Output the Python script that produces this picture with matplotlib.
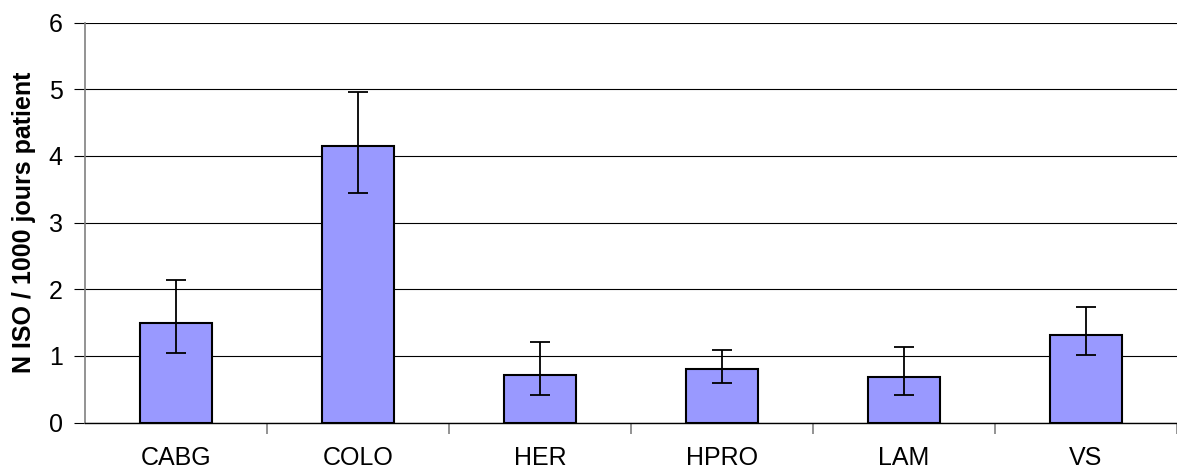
import numpy as np
import matplotlib
matplotlib.use("Agg")
import matplotlib.pyplot as plt

plt.rcParams['font.family'] = ['Liberation Sans', 'DejaVu Sans']

# data #
categories = ['CABG', 'COLO', 'HER', 'HPRO', 'LAM', 'VS']
values = [1.50, 4.15, 0.72, 0.81, 0.69, 1.32]
err_high = [2.14, 4.96, 1.21, 1.09, 1.14, 1.74]
err_low = [1.05, 3.45, 0.42, 0.60, 0.42, 1.02]

vals = np.array(values)
yerr = np.array([vals - np.array(err_low), np.array(err_high) - vals])
x = np.arange(len(categories))

fig = plt.figure(figsize=(11.77, 4.68), dpi=100)
ax = fig.add_axes([85/1177, 45.5/468, 1 - 85/1177, 400/468])

ax.bar(x, vals, width=0.40, color='#9999FF', edgecolor='black',
       linewidth=1.5, zorder=3)
ax.errorbar(x, vals, yerr=yerr, fmt='none', ecolor='black',
            elinewidth=1.3, capsize=7.5, capthick=1.3, zorder=4)

ax.set_xlim(-0.5, 5.45)
ax.set_ylim(0, 6)
ax.set_yticks(range(7))
ax.yaxis.grid(True, color='black', linewidth=0.8, zorder=0)
ax.set_axisbelow(True)

# category labels centred, tick marks at boundaries #
ax.set_xticks(x)
ax.set_xticklabels(categories, fontsize=18)
ax.tick_params(axis='x', length=0, pad=17)
ax.set_xticks(np.arange(len(categories)) + 0.5, minor=True)
ax.tick_params(axis='x', which='minor', length=8, color='#808080',
               width=1.2, direction='out')
ax.tick_params(axis='y', length=8, color='black', width=0.8,
               labelsize=18, pad=8)

for s in ['top', 'right']:
    ax.spines[s].set_visible(False)
ax.spines['left'].set_color('#808080')
ax.spines['left'].set_linewidth(1.2)
ax.spines['bottom'].set_color('black')
ax.spines['bottom'].set_linewidth(1.0)

ax.set_ylabel('N ISO / 1000 jours patient', fontsize=18, fontweight='bold')
ax.yaxis.set_label_coords(-49/1092, 0.5)

fig.savefig('out.png', dpi=100)
